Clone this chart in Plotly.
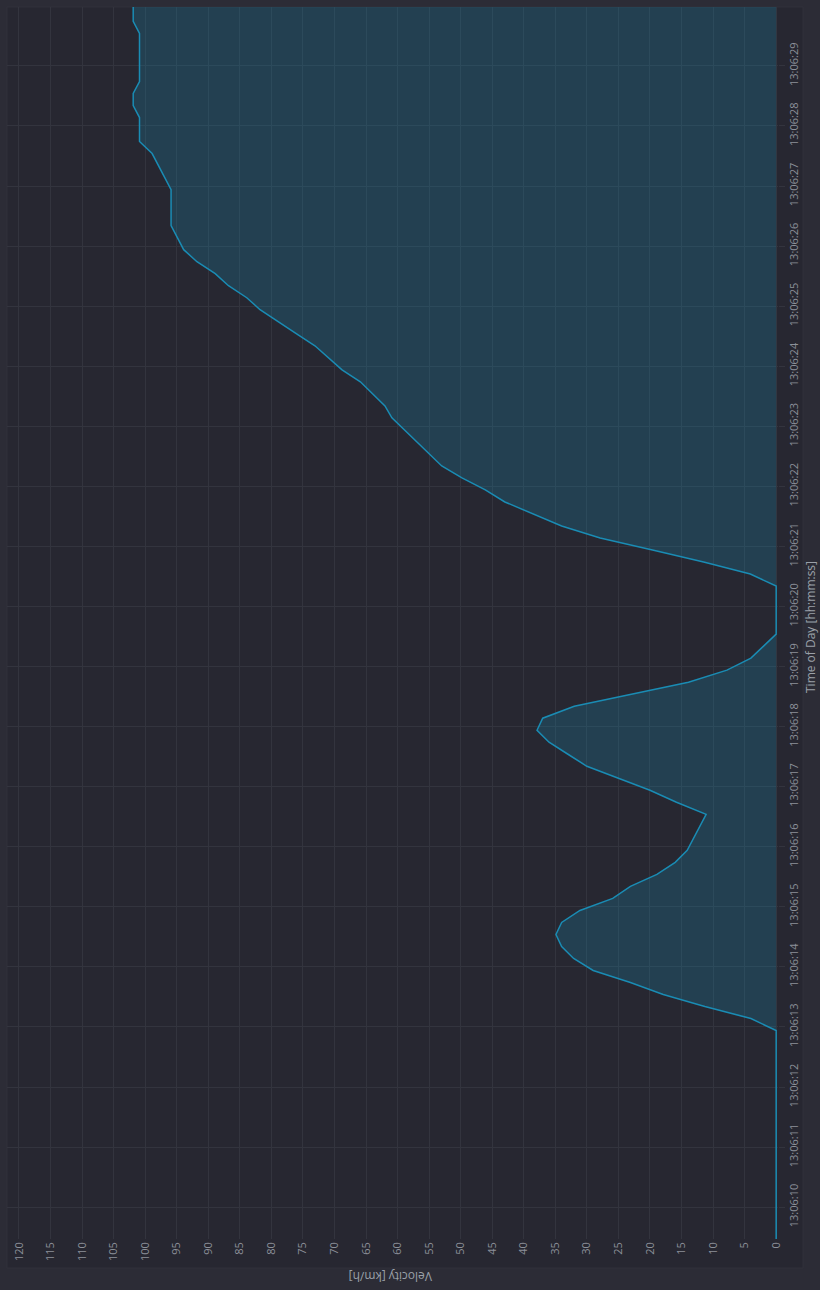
import plotly.graph_objects as go

# seconds after 13:06:00
time_s = [9.34, 9.54, 9.74, 9.94, 10.14, 10.34, 10.54, 10.74, 10.94, 11.14,
          11.34, 11.54, 11.74, 11.94, 12.14, 12.34, 12.54, 12.74, 12.94, 13.14,
          13.34, 13.54, 13.74, 13.94, 14.14, 14.34, 14.54, 14.74, 14.94, 15.14,
          15.34, 15.54, 15.74, 15.94, 16.14, 16.34, 16.54, 16.74, 16.94, 17.14,
          17.34, 17.54, 17.74, 17.94, 18.14, 18.34, 18.54, 18.74, 18.94, 19.14,
          19.34, 19.54, 19.74, 19.94, 20.14, 20.34, 20.54, 20.74, 20.94, 21.14,
          21.34, 21.54, 21.74, 21.94, 22.14, 22.34, 22.54, 22.74, 22.94, 23.14,
          23.34, 23.54, 23.74, 23.94, 24.14, 24.34, 24.54, 24.74, 24.94, 25.14,
          25.34, 25.54, 25.74, 25.94, 26.14, 26.34, 26.54, 26.74, 26.94, 27.14,
          27.34, 27.54, 27.74, 27.94, 28.14, 28.34, 28.54, 28.74, 28.94, 29.14,
          29.34, 29.54, 29.74, 29.94, 30.14]

velocity_kmh = [0, 0, 0, 0, 0, 0, 0, 0, 0, 0,
                0, 0, 0, 0, 0, 0, 0, 0, 0, 4.0,
                11.3, 17.9, 23.1, 29.0, 32.1, 34.0, 34.9, 34.0, 31.1, 25.9,
                23.1, 18.9, 16.0, 14.1, 13.1, 12.1, 11.1, 15.8, 20.0, 25.0,
                30.0, 33.0, 36.0, 37.9, 37.0, 32.0, 22.8, 13.9, 7.8, 4.0,
                2.0, 0, 0, 0, 0, 0, 4.1, 11.5, 19.6, 27.9,
                34.0, 38.5, 43.0, 46.1, 49.8, 53.0, 55.0, 57.0, 59.0, 60.9,
                62.0, 64.0, 65.9, 68.8, 70.9, 73.1, 76.0, 78.9, 81.8, 83.9,
                86.8, 88.9, 91.8, 93.9, 94.9, 95.9, 95.9, 95.9, 95.9, 96.9,
                97.9, 98.9, 100.9, 100.9, 100.9, 101.9, 101.9, 100.9, 100.9, 100.9,
                100.9, 100.9, 101.9, 101.9, 101.9]

time_tick_vals = [10, 11, 12, 13, 14, 15, 16, 17, 18, 19,
                  20, 21, 22, 23, 24, 25, 26, 27, 28, 29]
time_tick_text = ["13:06:10", "13:06:11", "13:06:12", "13:06:13", "13:06:14",
                  "13:06:15", "13:06:16", "13:06:17", "13:06:18", "13:06:19",
                  "13:06:20", "13:06:21", "13:06:22", "13:06:23", "13:06:24",
                  "13:06:25", "13:06:26", "13:06:27", "13:06:28", "13:06:29"]

W, H = 820, 1290
ML, MR, MT, MB = 7, 42, 7, 51
PW = W - ML - MR
PH = H - MT - MB

def px_x(px):
    return (px - ML) / PW

def px_y(py):
    return (H - MB - py) / PH

LINE = "#1a8cb4"
FILL = "rgba(25,140,180,0.25)"
GRID = "#33343e"
TICK = "#8c9099"
FONT = "Open Sans, Roboto, sans-serif"

fig = go.Figure()
fig.add_trace(go.Scatter(
    x=velocity_kmh, y=time_s, mode="lines", fill="tozerox",
    fillcolor=FILL, line=dict(color=LINE, width=1.5), showlegend=False,
    hoverinfo="skip"))

fig.update_layout(
    width=W, height=H,
    margin=dict(l=ML, r=MR, t=MT, b=MB, pad=0),
    paper_bgcolor="#2c2c36",
    plot_bgcolor="#272731",
    font=dict(family=FONT, color=TICK, size=11),
    showlegend=False,
    xaxis=dict(
        range=[121.9, -0.29], autorange=False, dtick=5, tick0=0,
        tickangle=-90, showgrid=True, gridcolor=GRID, gridwidth=1,
        zeroline=False, showline=False, ticks="",
        tickfont=dict(size=11, color=TICK, family=FONT),
        fixedrange=True),
    yaxis=dict(
        range=[9.47, 29.98], autorange=False, side="right",
        tickvals=time_tick_vals, ticktext=time_tick_text,
        tickangle=-90, showgrid=True, gridcolor=GRID, gridwidth=1,
        zeroline=False, showline=False, ticks="outside", ticklen=6,
        tickcolor=GRID, tickfont=dict(size=11, color=TICK, family=FONT),
        fixedrange=True),
    shapes=[dict(type="rect", xref="paper", yref="paper", layer="below",
                 x0=px_x(7), x1=px_x(803), y0=px_y(1268), y1=px_y(7),
                 fillcolor="#272731", line=dict(color="#30313b", width=1))],
    annotations=[
        dict(text="Time of Day [hh:mm:ss]", xref="paper", yref="paper",
             x=px_x(810), y=px_y(627), textangle=-90, showarrow=False,
             xanchor="center", yanchor="middle",
             font=dict(size=12, color="#9aa0a8", family=FONT)),
        dict(text="Velocity [km/h]", xref="paper", yref="paper",
             x=px_x(391), y=px_y(1277), textangle=180, showarrow=False,
             xanchor="center", yanchor="middle",
             font=dict(size=12, color="#9aa0a8", family=FONT)),
    ],
)

fig.write_html("out.html")
